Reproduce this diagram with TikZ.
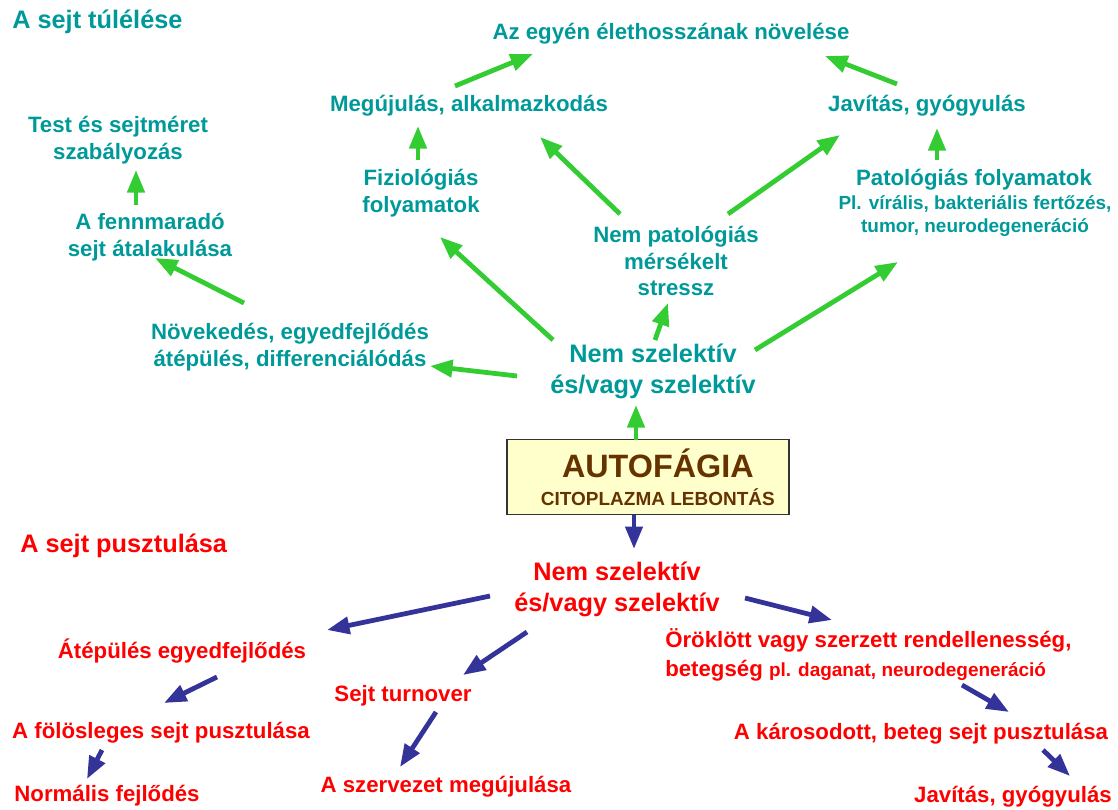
\documentclass[tikz,border=0pt]{standalone}
\usepackage{fontspec}
\setmainfont{Liberation Sans}
\usetikzlibrary{arrows.meta,calc}
\definecolor{tealc}{RGB}{0,153,153}
\definecolor{grnc}{RGB}{51,204,51}
\definecolor{bluc}{RGB}{51,51,153}
\definecolor{redc}{RGB}{255,0,0}
\definecolor{boxc}{RGB}{255,255,204}
\definecolor{brownc}{RGB}{102,51,0}
\newcommand\fsmid{\fontsize{15.8}{19.1}\selectfont}
\newcommand\fsbig{\fontsize{18}{22}\selectfont}
\newcommand\fssmall{\fontsize{13.5}{17}\selectfont}
\tikzset{
	tealtxt/.style={text=tealc, font=\bfseries\fsmid, align=center, inner sep=0pt},
	tealbig/.style={tealtxt, font=\bfseries\fsbig},
	tealsmall/.style={tealtxt, font=\bfseries\fssmall},
	redtxt/.style={text=redc, font=\bfseries\fsmid, align=center, inner sep=0pt},
	redbig/.style={redtxt, font=\bfseries\fsbig},
	grn/.style={draw=grnc, line width=3.4pt, -{Triangle[length=16pt,width=12pt]}},
	blu/.style={draw=bluc, line width=3.4pt, -{Triangle[length=16pt,width=12pt]}},
	autobox/.style={draw=black!80, fill=boxc, line width=1.2pt, minimum width=7.05cm, minimum height=1.875cm, inner sep=0pt, text=brownc, align=center, font=\bfseries\fontsize{13.5}{19.8}\selectfont}
}
\begin{document}
\begin{tikzpicture}[x=0.025cm, y=-0.025cm]
			%%%%% START %%%%%
			\useasboundingbox (0, 0) rectangle (1118, 809);
			
			% survival side
			\node[tealbig, anchor=west] (tultit) at (12, 22) {A sejt túlélése};
			\node[tealtxt] (elet) at (671, 34) {Az egyén élethosszának növelése};
			\node[tealtxt] (megu) at (469, 106) {Megújulás, alkalmazkodás};
			\node[tealtxt] (javit) at (927, 106) {Javítás, gyógyulás};
			\node[tealtxt] (testm) at (118, 140) {Test és sejtméret\\szabályozás};
			\node[tealtxt] (fiz) at (421, 193) {Fiziológiás\\folyamatok};
			\node[tealtxt] (pato) at (974, 180) {Patológiás folyamatok};
			\node[tealsmall] (patopl) at (975, 216) {Pl. vírális, bakteriális fertőzés,\\tumor, neurodegeneráció};
			\node[tealtxt] (fennm) at (150, 237) {A fennmaradó\\sejt átalakulása};
			\node[tealtxt] (nempat) at (676, 261) {Nem patológiás\\mérsékelt\\stressz};
			\node[tealtxt] (novek) at (290, 347) {Növekedés, egyedfejlődés\\átépülés, differenciálódás};
			\node[tealbig] (nszt) at (653, 371) {Nem szelektív\\és/vagy szelektív};
			
			% the box
			\node[autobox] (autof) at (648, 477) {{\fontsize{23}{24}\selectfont\hspace*{14pt}AUTOFÁGIA}\\\hspace*{14pt}CITOPLAZMA LEBONTÁS};
			
			% death side
			\node[redbig, anchor=west] (pusztit) at (20, 546) {A sejt pusztulása};
			\node[redbig] (nszp) at (617, 589) {Nem szelektív\\és/vagy szelektív};
			\node[redtxt] (atep) at (182, 651) {Átépülés egyedfejlődés};
			\node[redtxt, anchor=west, align=left] (orok) at (665, 655) {Öröklött vagy szerzett rendellenesség,\\[2pt]betegség {\fssmall pl. daganat, neurodegeneráció}};
			\node[redtxt] (turn) at (403, 696) {Sejt turnover};
			\node[redtxt] (folos) at (161, 733) {A fölösleges sejt pusztulása};
			\node[redtxt] (karos) at (921, 734) {A károsodott, beteg sejt pusztulása};
			\node[redtxt] (norm) at (107, 796) {Normális fejlődés};
			\node[redtxt] (szerv) at (446, 787) {A szervezet megújulása};
			\node[redtxt] (javit2) at (1013, 797) {Javítás, gyógyulás};
			
			% green arrows
			\draw[grn] ($(megu)+(-14,-20)$) -- ($(elet)+(-138,20)$);
			\draw[grn] ($(javit)+(-30,-22)$) -- ($(elet)+(154,22)$);
			\draw[grn] ($(fiz)+(-3,-33)$) -- ($(megu)+(-51,20)$);
			\draw[grn] ($(pato)+(-37,-20)$) -- ($(javit)+(10,22)$);
			\draw[grn] ($(fennm)+(-14,-32)$) -- ($(testm)+(18,30)$);
			\draw[grn] ($(novek)+(-46,-44)$) -- ($(fennm)+(5,21)$);
			\draw[grn] ($(nszt)+(-100,-31)$) -- ($(fiz)+(19,44)$);
			\draw[grn] ($(nempat)+(-56,-47)$) -- ($(megu)+(71,31)$);
			\draw[grn] ($(nempat)+(52,-47)$) -- ($(javit)+(-87,29)$);
			\draw[grn] ($(nszt)+(2,-31)$) -- ($(nempat)+(-8,42)$);
			\draw[grn] ($(nszt)+(102,-21)$) -- ($(patopl)+(-77,46)$);
			\draw[grn] ($(nszt)+(-136,5)$) -- ($(novek)+(140,19)$);
			\draw[grn] ($(autof)+(-12,-37)$) -- ($(nszt)+(-17,34)$);
			
			% blue arrows
			\draw[blu] ($(autof)+(-14,38)$) -- ($(nszp)+(17,-40)$);
			\draw[blu] ($(nszp)+(-127,7)$) -- ($(atep)+(145,-21)$);
			\draw[blu] ($(nszp)+(128,9)$) -- ($(orok.west)+(167,-35)$);
			\draw[blu] ($(nszp)+(-90,43)$) -- ($(turn)+(60,-21)$);
			\draw[blu] ($(atep)+(35,26)$) -- ($(folos)+(3,-30)$);
			\draw[blu] ($(turn)+(33,16)$) -- ($(szerv)+(-46,-20)$);
			\draw[blu] ($(orok.west)+(297,30)$) -- ($(karos)+(88,-22)$);
			\draw[blu] ($(folos)+(-59,17)$) -- ($(norm)+(-20,-17)$);
			\draw[blu] ($(karos)+(122,16)$) -- ($(javit2)+(57,-21)$);
			
			%%%%% END %%%%%
\end{tikzpicture}
\end{document}
